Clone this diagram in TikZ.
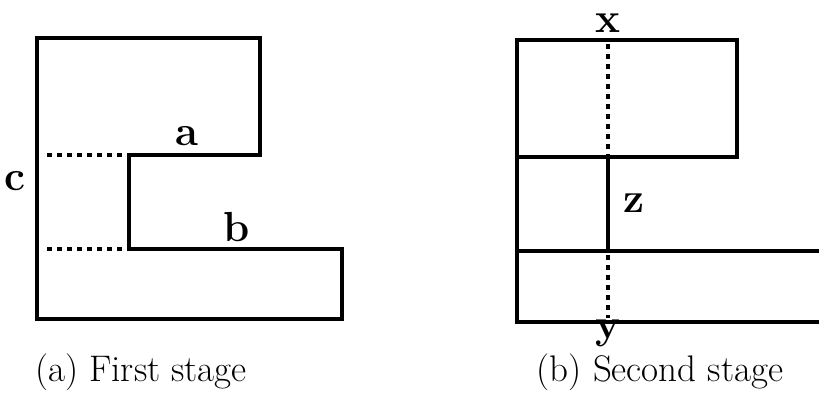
\documentclass[tikz,border=0pt]{standalone}
\usepackage{tikz}
\usetikzlibrary{calc}

\begin{document}
\begin{tikzpicture}[
    x=0.5pt, y=-0.5pt,
    outline/.style={line width=2pt, line join=miter},
    cutline/.style={line width=2pt, dash pattern=on 2.5pt off 2.5pt},
    seglabel/.style={font=\fontsize{21}{23}\selectfont\bfseries, inner sep=0pt},
    caption/.style={font=\fontsize{18.5}{21}\selectfont, inner sep=0pt}
]

\useasboundingbox (0,0) rectangle (819,407);

% -------------------------------------------------
% (a) First stage
% -------------------------------------------------

\draw[outline]
  (37,38) -- (260,38) -- (260,155) -- (129,155)
  -- (129,249) -- (342,249) -- (342,319) -- (37,319) -- cycle;

\draw[cutline] (47,155) -- (125,155);
\draw[cutline] (47,249) -- (125,249);

\node[seglabel] (la) at (187,136) {a};
\node[seglabel] (lb) at (237,227) {b};
\node[seglabel] (lc) at (15,181) {c};

\node[caption] (capa) at (141,372) {(a) First stage};

% -------------------------------------------------
% (b) Second stage
% -------------------------------------------------

\draw[outline] (517,40) rectangle (737,157);
\draw[outline] (517,251) rectangle (830,322);
\draw[outline] (517,157) -- (517,251);

% split line
\draw[outline] (608,157) -- (608,251);
\draw[cutline] (608,44) -- (608,155);
\draw[cutline] (608,255) -- (608,318);

\node[seglabel] (lx) at (608,23) {x};
\node[seglabel] (lz) at (634,203) {z};
\node[seglabel] (ly) at (608,333) {y};

\node[caption] (capb) at (660,372) {(b) Second stage};

\end{tikzpicture}
\end{document}
